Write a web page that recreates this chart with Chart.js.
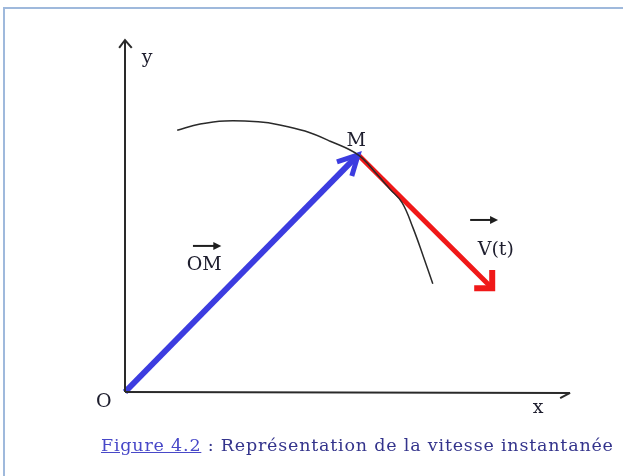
<!DOCTYPE html>
<html>
<head>
<meta charset="utf-8">
<script src="https://cdn.jsdelivr.net/npm/chart.js@4.4.0/dist/chart.umd.min.js"></script>
<style>
  body { margin: 0; background: #fff; width: 623px; height: 476px; overflow: hidden; position: relative; }
  #frame { position: absolute; left: 3px; top: 7px; width: 660px; height: 520px; border: 2px solid #9fb9dc; }
  #chart { position: absolute; left: 0; top: 0; }
  #caption { position: absolute; left: 101px; top: 435px; font-family: "DejaVu Serif", serif; font-size: 17.5px; letter-spacing: 0.8px; color: #34348c; white-space: nowrap; }
  #caption span { color: #4848c8; text-decoration: underline; }
</style>
</head>
<body>
<div id="frame"></div>
<canvas id="chart" width="623" height="476"></canvas>
<div id="caption"><span>Figure 4.2</span> : Représentation de la vitesse instantanée</div>
<script>
// points, in axis units (x 0..10, y 0..8)
const axisY = [{x: 0, y: 0}, {x: 0, y: 8}];
const axisYHead = [{x: -0.13, y: 7.82}, {x: 0, y: 8}, {x: 0.15, y: 7.82}];
const axisX = [{x: 0, y: 0}, {x: 9.89, y: -0.02}];
const axisXHead = [{x: 9.67, y: -0.14}, {x: 9.89, y: -0.02}];

const trajectory = [
    {x: 1.16, y: 5.95}, {x: 1.67, y: 6.09}, {x: 2.22, y: 6.16}, {x: 2.96, y: 6.14},
    {x: 3.44, y: 6.07}, {x: 4.0, y: 5.93}, {x: 4.56, y: 5.70}, {x: 5.18, y: 5.39},
    {x: 5.58, y: 4.97}, {x: 5.89, y: 4.61}, {x: 6.16, y: 4.30}, {x: 6.40, y: 3.73},
    {x: 6.62, y: 3.11}, {x: 6.84, y: 2.46}
];

const omVector = [{x: 0, y: 0}, {x: 5.18, y: 5.39}];
const omHead = [{x: 4.71, y: 5.23}, {x: 5.18, y: 5.39}, {x: 5.04, y: 4.91}];
const vVector = [{x: 5.18, y: 5.39}, {x: 8.16, y: 2.36}];
const vHead = [{x: 8.16, y: 2.77}, {x: 8.16, y: 2.36}, {x: 7.76, y: 2.36}];

const labels = [
    {text: 'y', x: 0.49, y: 7.59},
    {text: 'x', x: 9.18, y: -0.36},
    {text: 'O', x: -0.47, y: -0.23},
    {text: 'M', x: 5.14, y: 5.70},
    {text: 'OM', x: 1.76, y: 2.89},
    {text: 'V(t)', x: 8.24, y: 3.22}
];
const vectorMarks = [
    {x1: 1.51, x2: 2.14, y: 3.32},
    {x1: 7.67, x2: 8.29, y: 3.91}
];

function line(data, color, width) {
    return {
        data: data,
        showLine: true,
        borderColor: color,
        borderWidth: width,
        pointRadius: 0,
        borderJoinStyle: 'miter',
        borderCapStyle: 'butt',
        clip: false,
        fill: false
    };
}

const labelPlugin = {
    id: 'labels',
    afterDatasetsDraw(chart) {
        const ctx = chart.ctx;
        const sx = chart.scales.x, sy = chart.scales.y;
        ctx.save();
        ctx.font = '19px "DejaVu Serif", serif';
        ctx.fillStyle = '#1e1e2e';
        ctx.textAlign = 'center';
        ctx.textBaseline = 'middle';
        labels.forEach(l => {
            ctx.fillText(l.text, sx.getPixelForValue(l.x), sy.getPixelForValue(l.y));
        });
        ctx.strokeStyle = '#1e1e1e';
        ctx.fillStyle = '#1e1e1e';
        ctx.lineWidth = 2;
        vectorMarks.forEach(m => {
            const a = sx.getPixelForValue(m.x1), b = sx.getPixelForValue(m.x2);
            const y = sy.getPixelForValue(m.y);
            ctx.beginPath();
            ctx.moveTo(a, y);
            ctx.lineTo(b - 5, y);
            ctx.stroke();
            ctx.beginPath();
            ctx.moveTo(b, y);
            ctx.lineTo(b - 8, y - 4);
            ctx.lineTo(b - 8, y + 4);
            ctx.closePath();
            ctx.fill();
        });
        ctx.restore();
    }
};

new Chart(document.getElementById('chart'), {
    type: 'scatter',
    data: {
        datasets: [
            line(axisY, '#2a2a2a', 2),
            line(axisYHead, '#2a2a2a', 2),
            line(axisX, '#2a2a2a', 2),
            line(axisXHead, '#2a2a2a', 2),
            Object.assign(line(trajectory, '#2a2a2a', 1.5), {tension: 0.4}),
            line(omVector, '#3c3ce0', 6),
            line(omHead, '#3c3ce0', 5),
            line(vVector, '#f01818', 5),
            line(vHead, '#f01818', 6)
        ]
    },
    options: {
        responsive: false,
        animation: false,
        layout: { padding: { left: 125, right: 48, top: 40, bottom: 84 } },
        plugins: { legend: { display: false }, tooltip: { enabled: false } },
        scales: {
            x: { type: 'linear', min: 0, max: 10, display: false },
            y: { type: 'linear', min: 0, max: 8, display: false }
        }
    },
    plugins: [labelPlugin]
});
</script>
</body>
</html>
